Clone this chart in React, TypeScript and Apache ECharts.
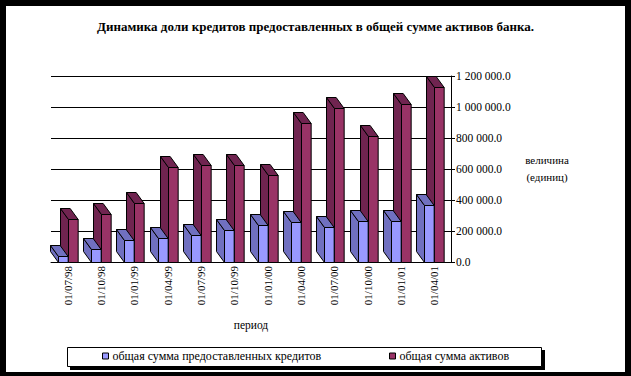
import React, { useEffect, useRef } from "react";
import * as echarts from "echarts";

const categories = ["01/07/98", "01/10/98", "01/01/99", "01/04/99", "01/07/99", "01/10/99", "01/01/00", "01/04/00", "01/07/00", "01/10/00", "01/01/01", "01/04/01"];
const loans = [40000, 82000, 140000, 153000, 172000, 205000, 237000, 256000, 224000, 263000, 263000, 366000];
const assets = [276000, 308000, 379000, 611000, 624000, 624000, 559000, 895000, 992000, 811000, 1017000, 1127000];
const yTicks = { min: 0, max: 1200000, interval: 200000 };

const titleText = "Динамика доли кредитов предоставленных в общей сумме активов банка.";
const loansName = "общая сумма предоставленных кредитов";
const assetsName = "общая сумма активов";

const FONT = "Liberation Serif";

function fmt(v: number): string {
  const s = v.toFixed(1);
  const [i, d] = s.split(".");
  return i.replace(/\B(?=(\d{3})+(?!\d))/g, " ") + "." + d;
}

function make3D(offsetFrac: number, front: string, side: string) {
  return (params: any, api: any) => {
    const idx = api.value(0);
    const v = api.value(1);
    const top = api.coord([idx, v]);
    const base = api.coord([idx, 0]);
    const band = api.size([1, 0])[0];
    const w = band * 0.29;
    const x0 = Math.round(top[0] + band * offsetFrac) + 0.5;
    const yt = Math.round(top[1]) + 0.5;
    const yb = Math.round(base[1]) + 0.5;
    const dx = -8;
    const dy = -11;
    const stroke = { stroke: "#000", lineWidth: 1 };
    return {
      type: "group",
      children: [
        {
          type: "polygon",
          shape: { points: [[x0, yt], [x0 + dx, yt + dy], [x0 + dx, yb + dy], [x0, yb]] },
          style: { fill: side, ...stroke },
        },
        {
          type: "polygon",
          shape: { points: [[x0, yt], [x0 + dx, yt + dy], [x0 + w + dx, yt + dy], [x0 + w, yt]] },
          style: { fill: side, ...stroke },
        },
        {
          type: "rect",
          shape: { x: x0, y: yt, width: w, height: yb - yt },
          style: { fill: front, ...stroke },
        },
      ],
    };
  };
}

export default function App() {
  const ref = useRef<HTMLDivElement>(null);
  useEffect(() => {
    if (!ref.current) return;
    const chart = echarts.init(ref.current, null, { renderer: "svg" });
    const option: any = {
      animation: false,
      backgroundColor: "#fff",
      textStyle: { fontFamily: FONT },
      title: {
        text: titleText,
        left: "center",
        top: 15,
        textStyle: { fontFamily: FONT, fontWeight: "bold", fontSize: 13, color: "#000" },
      },
      grid: { left: 51, right: 180, top: 76, bottom: 114 },
      xAxis: {
        type: "category",
        data: categories,
        name: "период",
        nameLocation: "middle",
        nameGap: 57,
        nameTextStyle: { fontFamily: FONT, fontSize: 11.5, color: "#000" },
        axisLine: { show: true, lineStyle: { color: "#000", width: 1 } },
        axisTick: { show: false },
        axisLabel: { rotate: 90, margin: 4, fontFamily: FONT, fontSize: 11, color: "#000", interval: 0 },
      },
      yAxis: {
        type: "value",
        position: "right",
        min: yTicks.min,
        max: yTicks.max,
        interval: yTicks.interval,
        axisLine: { show: true, lineStyle: { color: "#000", width: 1 } },
        axisTick: { show: true, length: 4, lineStyle: { color: "#000" } },
        axisLabel: { margin: 5, fontFamily: FONT, fontSize: 11.5, color: "#000", formatter: (v: number) => fmt(v) },
        splitLine: { show: true, lineStyle: { color: "#000", width: 1 } },
      },
      legend: [
        {
          data: [loansName],
          left: 102,
          top: 350,
          padding: 0,
          itemWidth: 6,
          itemHeight: 6,
          icon: "rect",
          itemStyle: { borderColor: "#000", borderWidth: 1 },
          textStyle: { fontFamily: FONT, fontSize: 12, color: "#000", padding: [0, 0, 0, -1] },
          z: 10,
        },
        {
          data: [assetsName],
          left: 389,
          top: 350,
          padding: 0,
          itemWidth: 6,
          itemHeight: 6,
          icon: "rect",
          itemStyle: { borderColor: "#000", borderWidth: 1 },
          textStyle: { fontFamily: FONT, fontSize: 12, color: "#000", padding: [0, 0, 0, -1] },
          z: 10,
        },
      ],
      graphic: [
        { type: "rect", shape: { x: 0, y: 0, width: 631, height: 6 }, style: { fill: "#000" } },
        { type: "rect", shape: { x: 0, y: 0, width: 6, height: 376 }, style: { fill: "#000" } },
        { type: "rect", shape: { x: 625, y: 0, width: 6, height: 376 }, style: { fill: "#000" } },
        { type: "rect", shape: { x: 0, y: 372, width: 631, height: 4 }, style: { fill: "#000" } },
        { type: "rect", shape: { x: 70, y: 350, width: 475, height: 20 }, style: { fill: "#000" }, z: 1 },
        { type: "rect", shape: { x: 67.5, y: 347.5, width: 474, height: 19 }, style: { fill: "#fff", stroke: "#000", lineWidth: 1 }, z: 2 },
        {
          type: "text",
          x: 547,
          y: 168,
          z: 5,
          style: {
            text: "величина\n(единиц)",
            fill: "#000",
            font: "11px " + FONT,
            textAlign: "center",
            textVerticalAlign: "middle",
            lineHeight: 17,
          },
        },
      ],
      series: [
        {
          name: assetsName,
          type: "custom",
          renderItem: make3D(0.0, "#993366", "#702450"),
          itemStyle: { color: "#993366" },
          encode: { x: 0, y: 1 },
          data: assets.map((v, i) => [i, v]),
        },
        {
          name: loansName,
          type: "custom",
          renderItem: make3D(-0.3, "#9999FF", "#7070C0"),
          itemStyle: { color: "#9999FF" },
          encode: { x: 0, y: 1 },
          data: loans.map((v, i) => [i, v]),
        },
      ],
    };
    chart.setOption(option);
    return () => chart.dispose();
  }, []);
  return <div ref={ref} style={{ position: "fixed", left: 0, top: 0, width: 631, height: 376 }} />;
}
